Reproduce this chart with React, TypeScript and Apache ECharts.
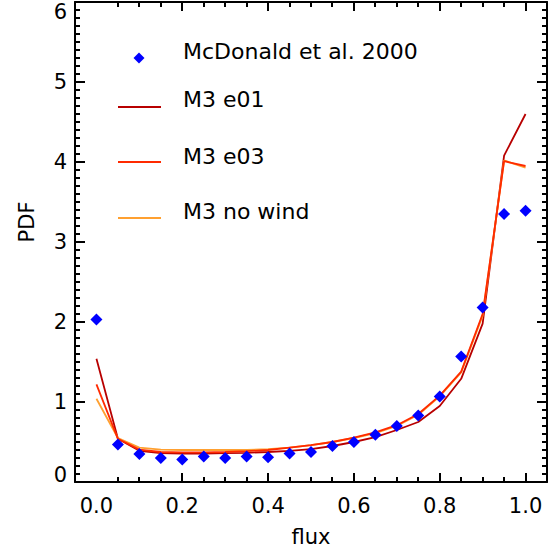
import React, { useEffect, useRef } from "react";
import * as echarts from "echarts";

const fluxBins = [0, 0.05, 0.1, 0.15, 0.2, 0.25, 0.3, 0.35, 0.4, 0.45, 0.5, 0.55, 0.6, 0.65, 0.7, 0.75, 0.8, 0.85, 0.9, 0.95, 1.0];
const mcdonald = [2.03, 0.47, 0.35, 0.3, 0.28, 0.32, 0.3, 0.32, 0.31, 0.355, 0.375, 0.45, 0.5, 0.59, 0.7, 0.83, 1.07, 1.57, 2.18, 3.35, 3.39];
const m3e01 = [1.54, 0.54, 0.39, 0.36, 0.355, 0.355, 0.36, 0.365, 0.375, 0.39, 0.41, 0.45, 0.5, 0.56, 0.65, 0.75, 0.95, 1.29, 1.98, 4.08, 4.6];
const m3e03 = [1.22, 0.54, 0.405, 0.375, 0.37, 0.37, 0.375, 0.385, 0.4, 0.43, 0.46, 0.5, 0.555, 0.62, 0.71, 0.85, 1.08, 1.38, 2.1, 4.01, 3.95];
const m3nowind = [1.04, 0.55, 0.43, 0.405, 0.4, 0.4, 0.4, 0.4, 0.41, 0.43, 0.46, 0.5, 0.55, 0.61, 0.7, 0.84, 1.07, 1.37, 2.08, 4.02, 3.93];
const xMajorTicks = [0, 0.2, 0.4, 0.6, 0.8, 1.0];
const xMinorStep = 0.05;
const yMajorTicks = [0, 1, 2, 3, 4, 5, 6];
const yMinorStep = 0.1;
const yEdgeLabels = ["0", "6"];
const legendLabels = ["McDonald et al. 2000", "M3 e01", "M3 e03", "M3 no wind"];
const colors = { mcd: "#0000ff", e01: "#b80000", e03: "#ff2a00", nowind: "#ffa030" };

const FONT = "DejaVu Sans";
const FS = 21;

export default function App() {
  const ref = useRef<HTMLDivElement>(null);
  useEffect(() => {
    if (!ref.current) return;
    const chart = echarts.init(ref.current, null, { renderer: "svg" });
    const pair = (ys: number[]) => fluxBins.map((x, i) => [x, ys[i]]);
    const mkLine = () => ({ show: true, onZero: false, lineStyle: { color: "#000", width: 2 } });
    const xAx = (pos: string, labels: boolean) => ({
      type: "value",
      position: pos,
      min: -0.05,
      max: 1.05,
      axisLine: mkLine(),
      axisTick: { show: false },
      axisLabel: labels
        ? { show: true, customValues: xMajorTicks, formatter: (v: number) => v.toFixed(1), fontSize: FS, fontFamily: FONT, color: "#000", margin: 13 }
        : { show: false },
      splitLine: { show: false },
    });
    const yAx = (pos: string, labels: boolean) => ({
      type: "value",
      position: pos,
      min: 0,
      max: 6,
      interval: 1,
      axisLine: mkLine(),
      axisTick: { show: false },
      axisLabel: labels
        ? { show: true, fontSize: FS, fontFamily: FONT, color: "#000", margin: 8, formatter: (v: number) => (v === 0 || v === 6 ? "" : String(v)) }
        : { show: false },
      splitLine: { show: false },
    });
    chart.setOption({
      animation: false,
      grid: { left: 75, right: 9, top: 2, bottom: 67 },
      xAxis: [xAx("bottom", true), xAx("top", false)],
      yAxis: [yAx("left", true), yAx("right", false)],
      series: [
        { type: "line", name: "M3 e01", data: pair(m3e01), symbol: "none", lineStyle: { color: colors.e01, width: 1.8 }, z: 2 },
        { type: "line", name: "M3 no wind", data: pair(m3nowind), symbol: "none", lineStyle: { color: colors.nowind, width: 1.8 }, z: 2 },
        { type: "line", name: "M3 e03", data: pair(m3e03), symbol: "none", lineStyle: { color: colors.e03, width: 1.8 }, z: 2 },
        { type: "scatter", name: "McDonald et al. 2000", data: pair(mcdonald), symbol: "diamond", symbolSize: 12, itemStyle: { color: colors.mcd, opacity: 1 }, z: 5 },
      ],
    });

    // tick marks placed through the chart's own scales, drawn as thin filled bars
    const toPx = (x: number, y: number) => chart.convertToPixel({ gridIndex: 0 }, [x, y]) as number[];
    const [left, bottom] = toPx(-0.05, 0);
    const [right, top] = toPx(1.05, 6);
    const ticks: any[] = [];
    const isMajorX = (v: number) => xMajorTicks.some((m) => Math.abs(m - v) < 1e-6);
    for (let k = 1; k * xMinorStep < 1.05 - 1e-6; k++) {
      const v = k * xMinorStep;
      const X = Math.round(toPx(v, 0)[0]);
      const len = isMajorX(v) ? 9 : 5;
      ticks.push({ type: "rect", shape: { x: X - 1, y: bottom - len, width: 2, height: len }, style: { fill: "#000" }, z: 10 });
      ticks.push({ type: "rect", shape: { x: X - 1, y: top, width: 2, height: len }, style: { fill: "#000" }, z: 10 });
    }
    for (let k = 0; k <= 60; k++) {
      const v = k * yMinorStep;
      const Y = Math.round(toPx(0, v)[1]);
      const len = yMajorTicks.some((m) => Math.abs(m - v) < 1e-6) ? 10 : 5;
      ticks.push({ type: "rect", shape: { x: left, y: Y - 1, width: len, height: 2 }, style: { fill: "#000" }, z: 10 });
      ticks.push({ type: "rect", shape: { x: right - len, y: Y - 1, width: len, height: 2 }, style: { fill: "#000" }, z: 10 });
    }
    ticks.push({ type: "text", x: left - 8, y: bottom - 7, style: { text: yEdgeLabels[0], fontSize: FS, fontFamily: FONT, fill: "#000", align: "right", verticalAlign: "middle" } });
    ticks.push({ type: "text", x: left - 8, y: top + 10, style: { text: yEdgeLabels[1], fontSize: FS, fontFamily: FONT, fill: "#000", align: "right", verticalAlign: "middle" } });

    const legendX = 118, legendTextX = 183;
    const legendYs = [51, 99, 156, 211];
    const lineYs = [0, 107, 162, 218];
    const graphic: any[] = [
      { type: "polygon", shape: { points: [[139, 52.5], [144.5, 58], [139, 63.5], [133.5, 58]] }, style: { fill: colors.mcd } },
      { type: "line", shape: { x1: legendX, y1: lineYs[1], x2: legendX + 43, y2: lineYs[1] }, style: { stroke: colors.e01, lineWidth: 1.8 } },
      { type: "line", shape: { x1: legendX, y1: lineYs[2], x2: legendX + 43, y2: lineYs[2] }, style: { stroke: colors.e03, lineWidth: 1.8 } },
      { type: "line", shape: { x1: legendX, y1: lineYs[3], x2: legendX + 43, y2: lineYs[3] }, style: { stroke: colors.nowind, lineWidth: 1.8 } },
      ...legendLabels.map((t, i) => ({
        type: "text",
        x: legendTextX,
        y: legendYs[i],
        style: { text: t, fontSize: 22, fontFamily: FONT, fill: "#000", verticalAlign: "middle", align: "left" },
      })),
      { type: "text", x: 311, y: 537, style: { text: "flux", fontSize: FS, fontFamily: FONT, fill: "#000", align: "center", verticalAlign: "middle" } },
      { type: "text", x: 27, y: 222, rotation: Math.PI / 2, style: { text: "PDF", fontSize: FS, fontFamily: FONT, fill: "#000", align: "center", verticalAlign: "middle" } },
      ...ticks,
    ];
    chart.setOption({ graphic });
    return () => chart.dispose();
  }, []);
  return <div ref={ref} style={{ position: "fixed", left: 0, top: 0, width: 556, height: 549, background: "#fff" }} />;
}
